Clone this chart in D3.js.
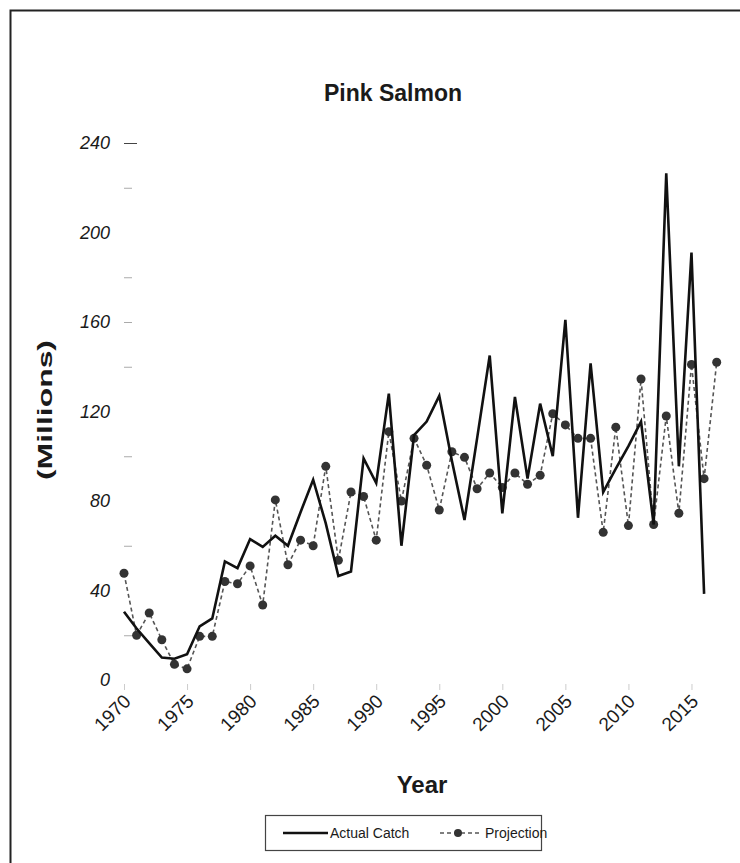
<!DOCTYPE html>
<html>
<head>
<meta charset="utf-8">
<script src="https://cdn.jsdelivr.net/npm/d3@7/dist/d3.min.js"></script>
<style>
    body { margin: 0; background: #fff; }
    text { font-family: "Liberation Sans", Arial, sans-serif; fill: #1a1a1a; }
</style>
</head>
<body>
<div id="chart-area"></div>
<script>
// Years (projection runs one year past the actual catch)
var years = [1970, 1971, 1972, 1973, 1974, 1975, 1976, 1977, 1978, 1979,
             1980, 1981, 1982, 1983, 1984, 1985, 1986, 1987, 1988, 1989,
             1990, 1991, 1992, 1993, 1994, 1995, 1996, 1997, 1998, 1999,
             2000, 2001, 2002, 2003, 2004, 2005, 2006, 2007, 2008, 2009,
             2010, 2011, 2012, 2013, 2014, 2015, 2016, 2017];

// Actual catch, millions of fish (1970-2016)
var actualCatch = [30.5, 23, 16.5, 10, 9.5, 11.5, 24, 27.5, 53, 50,
                   63, 59.5, 64.5, 60, 75, 89.5, 70, 46.5, 48.5, 99,
                   88, 128, 60, 109.5, 115.5, 127, 98, 71.5, 108, 145,
                   74.5, 126.5, 90, 123.5, 100, 161, 72.5, 141.5, 84, 94.5,
                   104.5, 115.5, 69.5, 226.5, 95.5, 191, 38.5];

// Projection, millions of fish (1970-2017)
var projection = [47.7, 20, 30, 18, 7, 5, 19.5, 19.5, 44, 43,
                  51, 33.5, 80.5, 51.5, 62.5, 60, 95.5, 53.5, 84, 82,
                  62.5, 111, 80, 108, 96, 76, 102, 99.5, 85.5, 92.5,
                  86, 92.5, 87.5, 91.5, 119, 114, 108, 108, 66, 113,
                  69, 134.5, 69.5, 118, 74.5, 141, 90, 142];

var yTicks = [0, 40, 80, 120, 160, 200, 240];
var yMinorTicks = [20, 60, 100, 140, 180, 220];
var xTickLabels = [1970, 1975, 1980, 1985, 1990, 1995, 2000, 2005, 2010, 2015];

var width = 740;
var height = 863;

var svg = d3.select("#chart-area")
    .append("svg")
    .attr("width", width)
    .attr("height", height);

svg.append("rect")
    .attr("width", width)
    .attr("height", height)
    .attr("fill", "#fff");

// Outer frame (runs off the right and bottom edges)
svg.append("rect")
    .attr("x", 10.5)
    .attr("y", 10.5)
    .attr("width", 780)
    .attr("height", 900)
    .attr("fill", "none")
    .attr("stroke", "#222")
    .attr("stroke-width", 2);

// Scales
var x = d3.scaleLinear()
    .domain([1970, 2017])
    .range([124, 716.7]);

var y = d3.scaleLinear()
    .domain([0, 240])
    .range([680, 143]);

// Title
svg.append("text")
    .attr("x", 393)
    .attr("y", 101)
    .attr("text-anchor", "middle")
    .attr("font-size", "23px")
    .attr("font-weight", "bold")
    .text("Pink Salmon");

// Y axis: labels, no domain line
var yAxis = svg.append("g")
    .attr("transform", "translate(110,0)")
    .call(d3.axisLeft(y).tickValues(yTicks).tickSize(0).tickPadding(0));
yAxis.select(".domain").remove();
yAxis.selectAll("text")
    .attr("font-size", "18px")
    .attr("font-style", "italic")
    .attr("font-family", "Liberation Sans, Arial, sans-serif")
    .attr("fill", "#222");

// faint tick dashes
svg.append("g")
    .attr("transform", "translate(124,0)")
    .call(d3.axisRight(y).tickValues(yMinorTicks.concat([160, 240])).tickSize(8).tickFormat(""))
    .call(g => g.select(".domain").remove())
    .call(g => g.selectAll("line").attr("stroke", "#aaa"))
    .call(g => g.selectAll(".tick").filter(d => d === 240).select("line")
        .attr("stroke", "#444").attr("x2", 13));

// X axis
var xAxis = svg.append("g")
    .attr("transform", "translate(0,684)")
    .call(d3.axisBottom(x).tickValues(xTickLabels).tickSize(6).tickFormat(d3.format("d")));
xAxis.select(".domain").remove();
xAxis.selectAll("line").attr("stroke", "#ccc");
xAxis.selectAll("text")
    .attr("font-size", "19px")
    .attr("font-family", "Liberation Sans, Arial, sans-serif")
    .attr("fill", "#222")
    .attr("text-anchor", "end")
    .attr("x", 0)
    .attr("y", 0)
    .attr("dy", "0.7em")
    .attr("transform", "translate(-2,9) rotate(-45)");

// Axis titles
svg.append("text")
    .attr("transform", "translate(52,410) rotate(-90)")
    .attr("text-anchor", "middle")
    .attr("font-size", "21px")
    .attr("font-weight", "bold")
    .attr("textLength", 140)
    .attr("lengthAdjust", "spacingAndGlyphs")
    .text("(Millions)");

svg.append("text")
    .attr("x", 422)
    .attr("y", 793)
    .attr("text-anchor", "middle")
    .attr("font-size", "24px")
    .attr("font-weight", "bold")
    .text("Year");

// Projection series: dashed line with dots
var projData = years.map((yr, i) => ({ year: yr, value: projection[i] }));
var actData = actualCatch.map((v, i) => ({ year: years[i], value: v }));

var line = d3.line()
    .x(d => x(d.year))
    .y(d => y(d.value));

svg.append("path")
    .datum(projData)
    .attr("fill", "none")
    .attr("stroke", "#555")
    .attr("stroke-width", 1.6)
    .attr("stroke-dasharray", "4,3")
    .attr("d", line);

svg.selectAll("circle.proj")
    .data(projData)
    .enter()
    .append("circle")
    .attr("class", "proj")
    .attr("cx", d => x(d.year))
    .attr("cy", d => y(d.value))
    .attr("r", 4.5)
    .attr("fill", "#333");

// Actual catch: solid black line
svg.append("path")
    .datum(actData)
    .attr("fill", "none")
    .attr("stroke", "#111")
    .attr("stroke-width", 2.6)
    .attr("stroke-linejoin", "miter")
    .attr("d", line);

// Legend
var legend = svg.append("g");
legend.append("rect")
    .attr("x", 265.5)
    .attr("y", 815.5)
    .attr("width", 276)
    .attr("height", 35)
    .attr("fill", "#fff")
    .attr("stroke", "#444")
    .attr("stroke-width", 1.2);

legend.append("line")
    .attr("x1", 283).attr("x2", 328)
    .attr("y1", 833).attr("y2", 833)
    .attr("stroke", "#111")
    .attr("stroke-width", 2.6);
legend.append("text")
    .attr("x", 330)
    .attr("y", 838)
    .attr("font-size", "14px")
    .text("Actual Catch");

legend.append("line")
    .attr("x1", 440).attr("x2", 482)
    .attr("y1", 833).attr("y2", 833)
    .attr("stroke", "#555")
    .attr("stroke-width", 1.6)
    .attr("stroke-dasharray", "4,3");
legend.append("circle")
    .attr("cx", 458)
    .attr("cy", 833)
    .attr("r", 4)
    .attr("fill", "#333");
legend.append("text")
    .attr("x", 485)
    .attr("y", 838)
    .attr("font-size", "14px")
    .text("Projection");
</script>
</body>
</html>
